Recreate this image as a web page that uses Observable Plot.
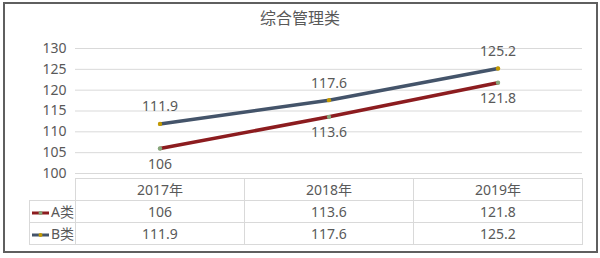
<!DOCTYPE html>
<html><head><meta charset="utf-8">
<script src="https://cdn.jsdelivr.net/npm/d3@7"></script>
<script src="https://cdn.jsdelivr.net/npm/@observablehq/plot@0.6"></script>
<style>
html,body{margin:0;padding:0;background:#fff;}
#wrap{position:relative;width:600px;height:258px;overflow:hidden;font-family:"Noto Sans","Noto Sans CJK SC",sans-serif;color:#595959;}
#frame{position:absolute;left:3px;top:2px;width:591px;height:247px;border:2px solid #5f5f5f;}
#title{position:absolute;left:0;width:600px;top:7px;text-align:center;font-size:16px;line-height:22px;}
#chart{position:absolute;left:0;top:0;}
#tbl{position:absolute;left:29px;top:178px;border-collapse:collapse;table-layout:fixed;width:553px;font-size:14px;color:#595959;}
#tbl td{border:1px solid #d9d9d9;text-align:center;padding:0;height:21px;line-height:20px;white-space:nowrap;overflow:hidden;}
#tbl td.leg{text-align:left;padding-left:1px;}
#tbl td.blank{border:none;}
</style></head>
<body><div id="wrap"><div id="frame"></div><div id="title"></div><div id="chart"></div><table id="tbl"></table></div>
<script>
const chartTitle = "综合管理类";
const years = ["2017年", "2018年", "2019年"];
const seriesNames = ["A类", "B类"];
const seriesA = [106, 113.6, 121.8];
const seriesB = [111.9, 117.6, 125.2];
const yTicks = [100, 105, 110, 115, 120, 125, 130];
const lineColors = ["#8c1c1f", "#44546a"];
const markerColors = ["#86a87c", "#c49a00"];
const labelDy = [16, -17];

const seriesValues = [seriesA, seriesB];
const data = seriesNames.flatMap((s, i) => years.map((y, j) => ({series: s, idx: i, year: y, value: seriesValues[i][j]})));

document.getElementById("title").textContent = chartTitle;

const font = '"Noto Sans","Noto Sans CJK SC",sans-serif';
const chart = Plot.plot({
  width: 600, height: 186,
  marginLeft: 75, marginRight: 18, marginTop: 48, marginBottom: 13,
  style: {fontSize: "14px", fontFamily: font, color: "#595959", background: "transparent", overflow: "visible"},
  x: {domain: years, type: "band", padding: 0, axis: null},
  y: {domain: [100, 130], axis: null},
  color: {domain: seriesNames, range: lineColors},
  marks: [
    Plot.gridY(yTicks, {stroke: "#d9d9d9", strokeOpacity: 1, strokeWidth: 1}),
    Plot.axisY({ticks: yTicks, tickSize: 0, tickPadding: 9, fill: "#595959", label: null, fontSize: 14}),
    Plot.lineY(data, {x: "year", y: "value", z: "series", stroke: "series", strokeWidth: 3.5}),
    Plot.dot(data, {x: "year", y: "value", r: 2.2, fill: d => markerColors[d.idx], stroke: "none"}),
    Plot.text(data.filter(d => d.idx === 0), {x: "year", y: "value", text: d => String(d.value), dy: labelDy[0], fill: "#595959", fontSize: 14}),
    Plot.text(data.filter(d => d.idx === 1), {x: "year", y: "value", text: d => String(d.value), dy: labelDy[1], fill: "#595959", fontSize: 14})
  ]
});
document.getElementById("chart").appendChild(chart);

// data table
const tbl = document.getElementById("tbl");
const cg = document.createElement("colgroup");
[46, 169, 169, 169].forEach(w => { const c = document.createElement("col"); c.style.width = w + "px"; cg.appendChild(c); });
tbl.appendChild(cg);
const hr = document.createElement("tr");
hr.style.height = "22px";
const blank = document.createElement("td"); blank.className = "blank"; hr.appendChild(blank);
years.forEach(y => { const td = document.createElement("td"); td.textContent = y; hr.appendChild(td); });
tbl.appendChild(hr);
seriesNames.forEach((s, i) => {
  const tr = document.createElement("tr");
  const lg = document.createElement("td"); lg.className = "leg";
  lg.innerHTML = `<svg width="19" height="8" style="vertical-align:middle;margin-right:1px"><line x1="1" y1="4" x2="18" y2="4" stroke="${lineColors[i]}" stroke-width="3"/><circle cx="9.5" cy="4" r="2" fill="${markerColors[i]}"/></svg>` + s;
  tr.appendChild(lg);
  seriesValues[i].forEach(v => { const td = document.createElement("td"); td.textContent = String(v); tr.appendChild(td); });
  tbl.appendChild(tr);
});
</script>
</body></html>
